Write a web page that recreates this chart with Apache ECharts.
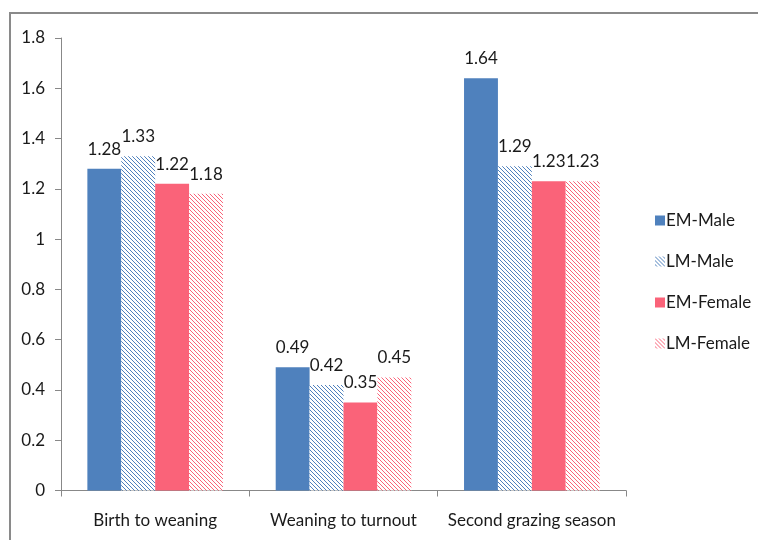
<!DOCTYPE html>
<html>
<head>
<meta charset="utf-8">
<script src="https://cdn.jsdelivr.net/npm/echarts@6/dist/echarts.min.js"></script>
<style>
  html, body { margin: 0; padding: 0; background: #fff; }
  #chart { width: 758px; height: 540px; }
</style>
</head>
<body>
<div id="chart"></div>
<script>
// Growth periods and average daily gain (kg/day) per group
const categories = ['Birth to weaning', 'Weaning to turnout', 'Second grazing season'];
const emMale   = [1.28, 0.49, 1.64];
const lmMale   = [1.33, 0.42, 1.29];
const emFemale = [1.22, 0.35, 1.23];
const lmFemale = [1.18, 0.45, 1.23];
const yTicks = { min: 0, max: 1.8, interval: 0.2 };

const FONT = 'Lato, "Liberation Sans", sans-serif';
const BLUE = '#4F81BD';
const PINK = '#FA6379';

// Diagonal hatch fill (white ground, thin coloured strokes running down-right)
function hatch(color) {
  const c = document.createElement('canvas');
  const s = 4;
  c.width = s; c.height = s;
  const g = c.getContext('2d');
  g.fillStyle = '#fff';
  g.fillRect(0, 0, s, s);
  g.strokeStyle = color;
  g.lineWidth = 1;
  g.beginPath();
  g.moveTo(-1, -1); g.lineTo(s + 1, s + 1);
  g.moveTo(-1, s - 1); g.lineTo(1, s + 1);
  g.moveTo(s - 1, -1); g.lineTo(s + 1, 1);
  g.stroke();
  return { image: c, repeat: 'repeat' };
}

function bar(name, data, color) {
  return {
    name, type: 'bar', data,
    barGap: '0%', barCategoryGap: '28%',
    itemStyle: { color },
    label: {
      show: true, position: 'top', distance: 11,
      color: '#1a1a1a', fontSize: 17, fontFamily: FONT,
      formatter: p => p.value.toFixed(2)
    }
  };
}

const chart = echarts.init(document.getElementById('chart'));
chart.setOption({
  animation: false,
  backgroundColor: '#fff',
  graphic: [{
    type: 'rect', silent: true,
    shape: { x: 10, y: 13, width: 800, height: 600 },
    style: { fill: null, stroke: '#8a8a8a', lineWidth: 2 }
  }],
  grid: { left: 61, right: 132, top: 38, bottom: 49.5, containLabel: false },
  legend: {
    orient: 'vertical', left: 650, top: 207, itemGap: 24,
    itemWidth: 10, itemHeight: 10, icon: 'rect',
    textStyle: { fontSize: 17, fontFamily: FONT, color: '#1a1a1a', padding: [0, 0, 0, -4] },
    data: ['EM-Male', 'LM-Male', 'EM-Female', 'LM-Female']
  },
  xAxis: {
    type: 'category', data: categories,
    axisLine: { lineStyle: { color: '#888', width: 1 } },
    axisTick: { show: true, length: 6, lineStyle: { color: '#888' } },
    axisLabel: { interval: 0, fontSize: 17, fontFamily: FONT, color: '#1a1a1a', margin: 22 }
  },
  yAxis: {
    type: 'value', min: yTicks.min, max: yTicks.max, interval: yTicks.interval,
    axisLine: { show: true, lineStyle: { color: '#888', width: 1 } },
    axisTick: { show: true, length: 6, lineStyle: { color: '#888' } },
    splitLine: { show: false },
    axisLabel: {
      fontSize: 17, fontFamily: FONT, color: '#1a1a1a', margin: 16,
      formatter: v => String(Math.round(v * 10) / 10)
    }
  },
  series: [
    bar('EM-Male', emMale, BLUE),
    bar('LM-Male', lmMale, hatch(BLUE)),
    bar('EM-Female', emFemale, PINK),
    bar('LM-Female', lmFemale, hatch(PINK))
  ]
});
</script>
</body>
</html>
